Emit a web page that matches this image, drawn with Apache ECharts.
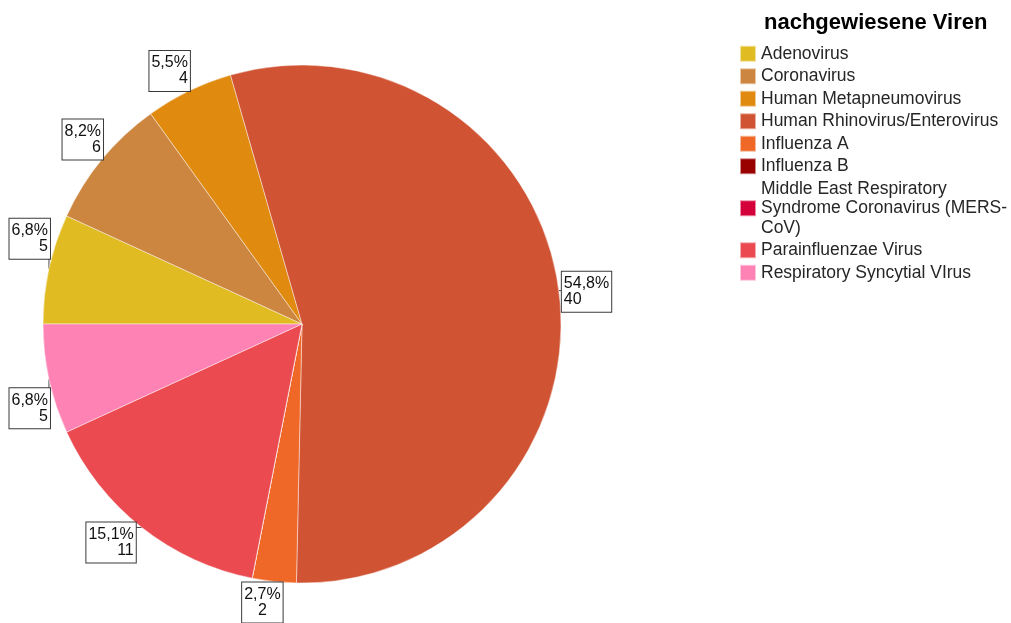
<!DOCTYPE html>
<html>
<head>
<meta charset="utf-8">
<script src="https://cdn.jsdelivr.net/npm/echarts@6/dist/echarts.min.js"></script>
<style>
html,body{margin:0;padding:0;background:#fff;}
#chart{width:1011px;height:623px;}
</style>
</head>
<body>
<div id="chart"></div>
<script>
const chartTitle = 'nachgewiesene Viren';
const categories = [
  'Adenovirus',
  'Coronavirus',
  'Human Metapneumovirus',
  'Human Rhinovirus/Enterovirus',
  'Influenza A',
  'Influenza B',
  'Middle East Respiratory Syndrome Coronavirus (MERS-CoV)',
  'Parainfluenzae Virus',
  'Respiratory Syncytial VIrus'
];
const legendLabels = [
  'Adenovirus',
  'Coronavirus',
  'Human Metapneumovirus',
  'Human Rhinovirus/Enterovirus',
  'Influenza A',
  'Influenza B',
  'Middle East Respiratory\nSyndrome Coronavirus (MERS-\nCoV)',
  'Parainfluenzae Virus',
  'Respiratory Syncytial VIrus'
];
const counts = [5, 6, 4, 40, 2, 0, 0, 11, 5];
const colors = ['#E1BB22', '#CC8640', '#E08A10', '#D05434', '#F06828', '#990000', '#D30039', '#EA4A50', '#FF82B4'];

const total = counts.reduce((a, b) => a + b, 0);
const CX = 302, CY = 324, R = 259;
const START = 180;

function midAngle(i) {
  let before = 0;
  for (let k = 0; k < i; k++) before += counts[k];
  const frac = (before + counts[i] / 2) / total;
  return (START - frac * 360) * Math.PI / 180;
}

const chart = echarts.init(document.getElementById('chart'), null, {renderer: 'canvas'});

const option = {
  animation: false,
  backgroundColor: '#fff',
  title: {
    text: chartTitle,
    left: 759,
    top: 7,
    textStyle: {fontFamily: 'Liberation Sans', fontSize: 22, fontWeight: 'bold', color: '#000'}
  },
  legend: {
    orient: 'vertical',
    left: 734,
    top: 39,
    itemWidth: 16,
    itemHeight: 16,
    itemGap: 3,
    icon: 'rect',
    selectedMode: false,
    data: categories,
    formatter: function (name) { return legendLabels[categories.indexOf(name)]; },
    textStyle: {fontFamily: 'Liberation Sans', fontSize: 17.5, lineHeight: 19.5, color: '#262626'}
  },
  series: [{
    type: 'pie',
    center: [CX, CY],
    radius: R,
    startAngle: START,
    clockwise: true,
    avoidLabelOverlap: false,
    silent: true,
    itemStyle: {borderColor: 'rgba(255,255,255,0.55)', borderWidth: 0.8},
    label: {
      show: true,
      position: 'outside',
      fontFamily: 'Liberation Sans',
      fontSize: 16,
      lineHeight: 16,
      color: '#111',
      backgroundColor: '#fff',
      borderColor: '#3a3a3a',
      borderWidth: 1,
      padding: [4, 2, 4, 2],
      formatter: function (p) {
        const pct = (counts[p.dataIndex] / total * 100).toFixed(1).replace('.', ',');
        return pct + '%\n' + counts[p.dataIndex];
      }
    },
    labelLine: {show: true, length: 2, length2: 0, lineStyle: {color: '#444', width: 1}},
    labelLayout: function (p) {
      const i = p.dataIndex;
      const t = midAngle(i);
      const c = Math.cos(t), s = Math.sin(t);
      const ex = CX + R * c, ey = CY - R * s;
      const w = p.labelRect.width, h = p.labelRect.height;
      let align, va, x, y, left, top;
      const steepDown = s < -0.5 && Math.abs(c) >= 0.2;
      if (Math.abs(c) < 0.2) { align = 'center'; x = ex + c * 110; left = x - w / 2; }
      else if (c < 0) { align = 'right'; x = ex + (steepDown ? -6 : 1); left = x - w; }
      else { align = 'left'; x = ex + 3; left = x; }
      if (Math.abs(s) < 0.15) { va = 'middle'; y = ey + 1; top = y - h / 2; }
      else if (s > 0) { va = 'bottom'; y = ey - (Math.abs(s) < 0.5 ? 10 : 0); top = y - h; }
      else { va = 'top'; y = ey + (Math.abs(s) < 0.5 ? 9 : (steepDown ? -5 : 1)); top = y; }
      const nx = Math.min(Math.max(ex, left), left + w);
      const ny = Math.min(Math.max(ey, top), top + h);
      return {x: x, y: y, align: align, verticalAlign: va, labelLinePoints: [[ex, ey], [nx, ny], [nx, ny]]};
    },
    data: categories.map(function (name, i) {
      return {
        name: name,
        value: counts[i],
        itemStyle: {color: colors[i]},
        label: {show: counts[i] > 0},
        labelLine: {show: counts[i] > 0}
      };
    })
  }]
};
chart.setOption(option);
</script>
</body>
</html>
